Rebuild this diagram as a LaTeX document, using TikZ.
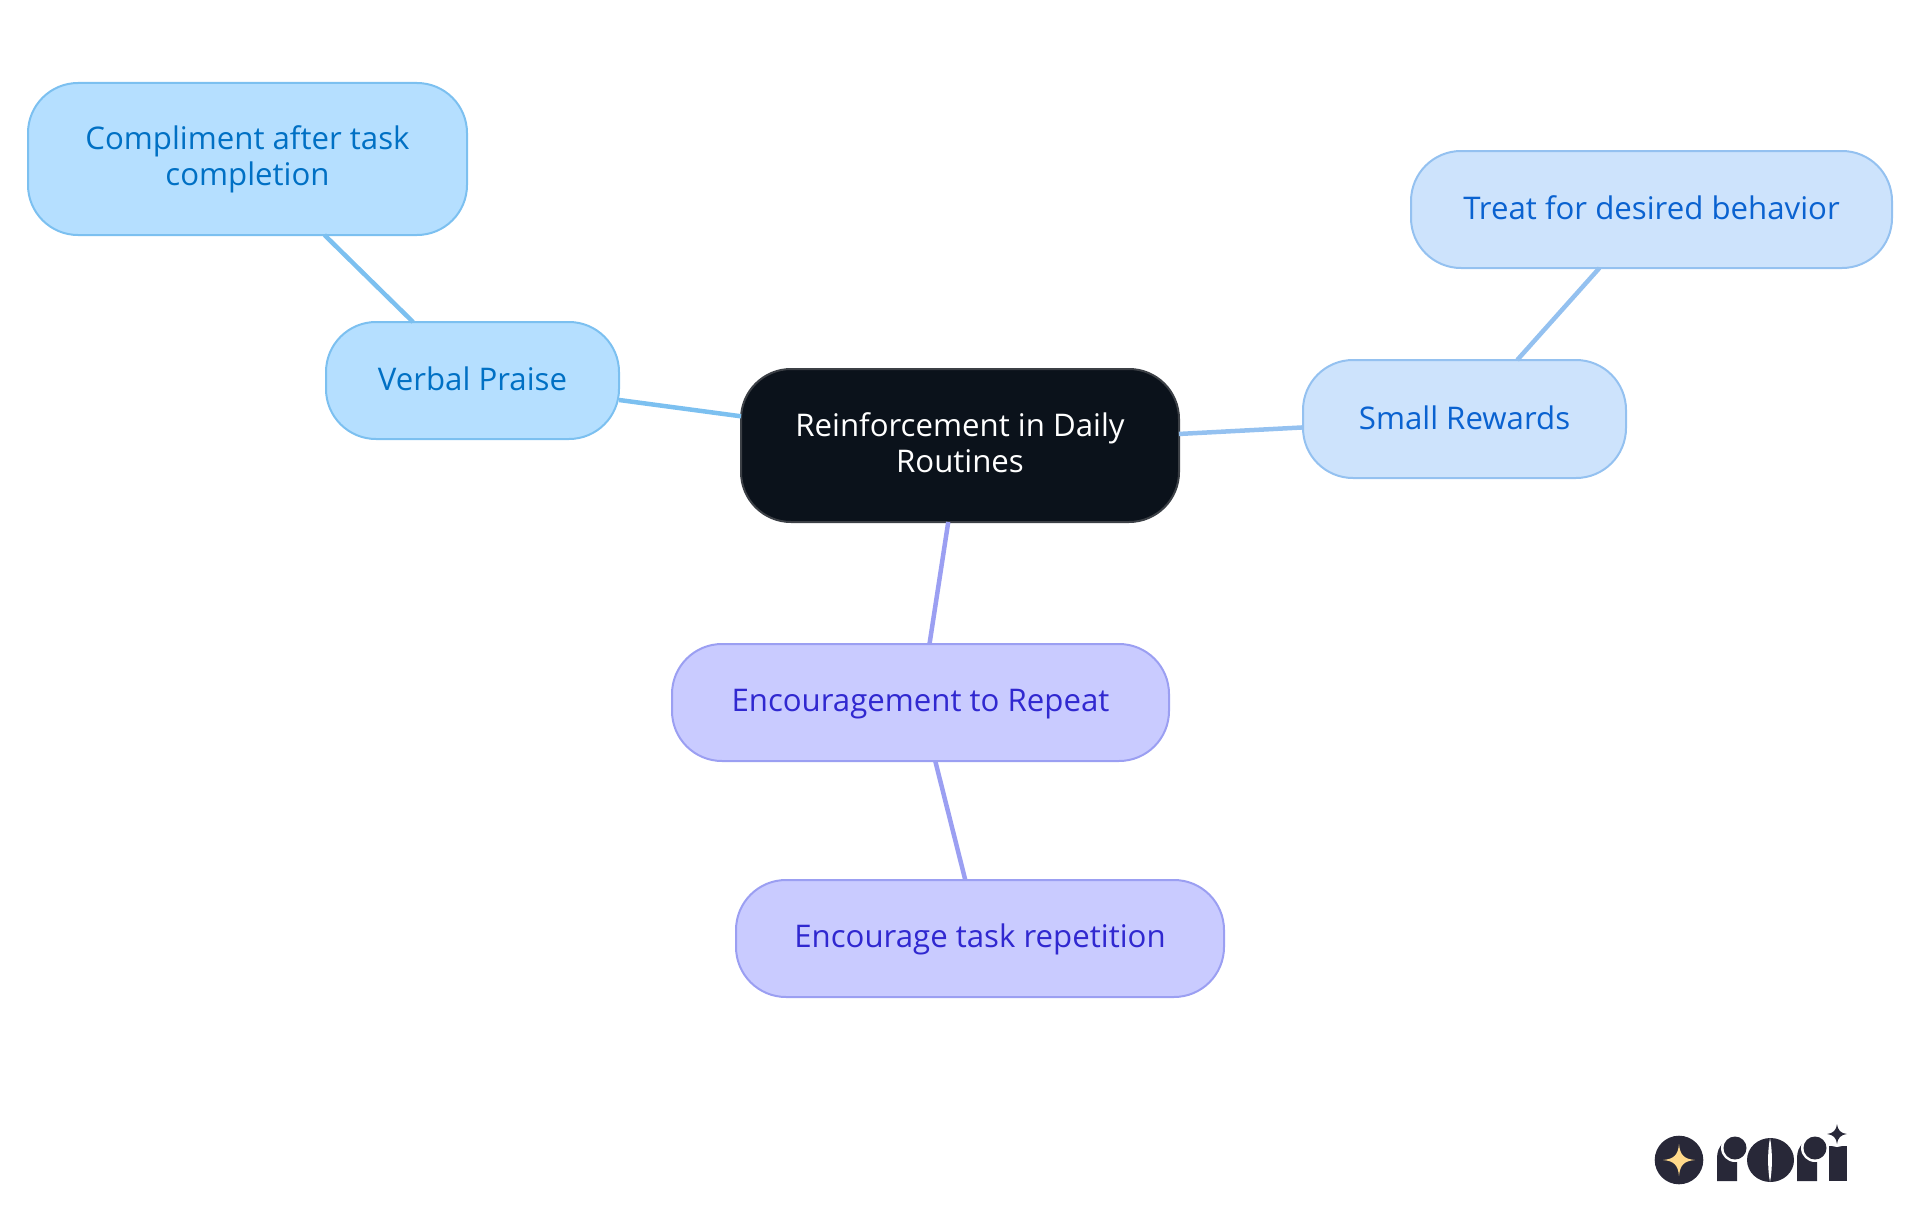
\documentclass[tikz,border=0pt]{standalone}
\usepackage{fontspec}
\setmainfont{Open Sans}
\usetikzlibrary{positioning}
\definecolor{rootfill}{HTML}{0B121B}
\definecolor{rootline}{HTML}{3C4046}
\definecolor{skyfill}{HTML}{B5DFFF}
\definecolor{skyline}{HTML}{7CC0F0}
\definecolor{skytext}{HTML}{0070C4}
\definecolor{bluefill}{HTML}{CDE3FC}
\definecolor{blueline}{HTML}{94C1F0}
\definecolor{bluetext}{HTML}{0A62D0}
\definecolor{violetfill}{HTML}{C9CBFF}
\definecolor{violetline}{HTML}{9B9FF2}
\definecolor{violettext}{HTML}{3028D0}
\definecolor{logodark}{HTML}{282838}
\definecolor{logogold}{HTML}{FFD98A}
\newcommand{\mstrut}{\rule[-6pt]{0pt}{32pt}}
\tikzstyle{mbox}=[rectangle, rounded corners=50pt, line width=2pt, outer sep=0pt,
                  inner sep=0pt, align=center,
                  execute at begin node=\mstrut, execute at end node=\mstrut,
                  font=\fontsize{31.2}{36}\selectfont]
\tikzstyle{rootbox}=[mbox, draw=rootline, fill=rootfill, text=white]
\tikzstyle{skybox}=[mbox, draw=skyline, fill=skyfill, text=skytext]
\tikzstyle{bluebox}=[mbox, draw=blueline, fill=bluefill, text=bluetext]
\tikzstyle{violetbox}=[mbox, draw=violetline, fill=violetfill, text=violettext]
\tikzstyle{skyl}=[-, line width=4.5pt, draw=skyline]
\tikzstyle{bluel}=[-, line width=4.5pt, draw=blueline]
\tikzstyle{violetl}=[-, line width=4.5pt, draw=violetline]
\begin{document}
\begin{tikzpicture}[x=1pt,y=-1pt]
\useasboundingbox (0,0) rectangle (1920,1215);

\node (ROOT) [rootbox, minimum width=438pt, minimum height=153pt] at (960,445.5)
  {Reinforcement in Daily\\Routines};

\node (VPRAISE) [skybox, minimum width=293pt, minimum height=117pt,
  above left=-70pt and 122pt of ROOT] {Verbal Praise};
\node (COMPL) [skybox, minimum width=439pt, minimum height=152pt,
  above left=87pt and -141pt of VPRAISE] {Compliment after task\\completion};

\node (SRWD) [bluebox, minimum width=323pt, minimum height=118pt,
  above right=-109pt and 124pt of ROOT] {Small Rewards};
\node (TREAT) [bluebox, minimum width=481pt, minimum height=117pt,
  above right=92pt and -215pt of SRWD] {Treat for desired behavior};

\node (ENCREP) [violetbox, minimum width=497pt, minimum height=117pt,
  below left=122pt and -428pt of ROOT] {Encouragement to Repeat};
\node (ENCTASK) [violetbox, minimum width=488pt, minimum height=117pt,
  below right=119pt and -433pt of ENCREP] {Encourage task repetition};

\draw[skyl] (ROOT) -- (VPRAISE);
\draw[skyl] (VPRAISE) -- (COMPL);
\draw[bluel] (ROOT) -- (SRWD);
\draw[bluel] (SRWD) -- (TREAT);
\draw[violetl] (ROOT) -- (ENCREP);
\draw[violetl] (ENCREP) -- (ENCTASK);

% logo
\fill[logodark] (1679,1160) circle (24.3);
\fill[logogold] (1663,1160) .. controls (1674,1159) and (1678,1155) .. (1679,1144)
  .. controls (1680,1155) and (1684,1159) .. (1695,1160)
  .. controls (1684,1161) and (1680,1165) .. (1679,1176)
  .. controls (1678,1165) and (1674,1161) .. (1663,1160) -- cycle;
\fill[logodark] (1717,1181) -- (1717,1158) .. controls (1717,1146) and (1725,1138) .. (1737,1138)
  -- (1737,1181) -- cycle;
\fill[white] (1735,1148) circle (14);
\fill[logodark] (1735,1148) circle (11.5);
\fill[logodark] (1770.5,1160) ellipse (23.5 and 22);
\fill[white] (1770,1138) .. controls (1767.5,1150) and (1767.5,1170) .. (1770,1182)
  .. controls (1772.5,1170) and (1772.5,1150) .. (1770,1138) -- cycle;
\fill[logodark] (1797,1181) -- (1797,1158) .. controls (1797,1146) and (1805,1138) .. (1817,1138)
  -- (1817,1181) -- cycle;
\fill[white] (1815,1148) circle (14);
\fill[logodark] (1815,1148) circle (11.5);
\fill[logodark] (1829,1146) rectangle (1847,1181);
\fill[white] (1837,1134) circle (13);
\fill[logodark] (1827,1134) .. controls (1833,1133.5) and (1836.5,1130) .. (1837,1124)
  .. controls (1837.5,1130) and (1841,1133.5) .. (1847,1134)
  .. controls (1841,1134.5) and (1837.5,1138) .. (1837,1144)
  .. controls (1836.5,1138) and (1833,1134.5) .. (1827,1134) -- cycle;
\end{tikzpicture}
\end{document}
